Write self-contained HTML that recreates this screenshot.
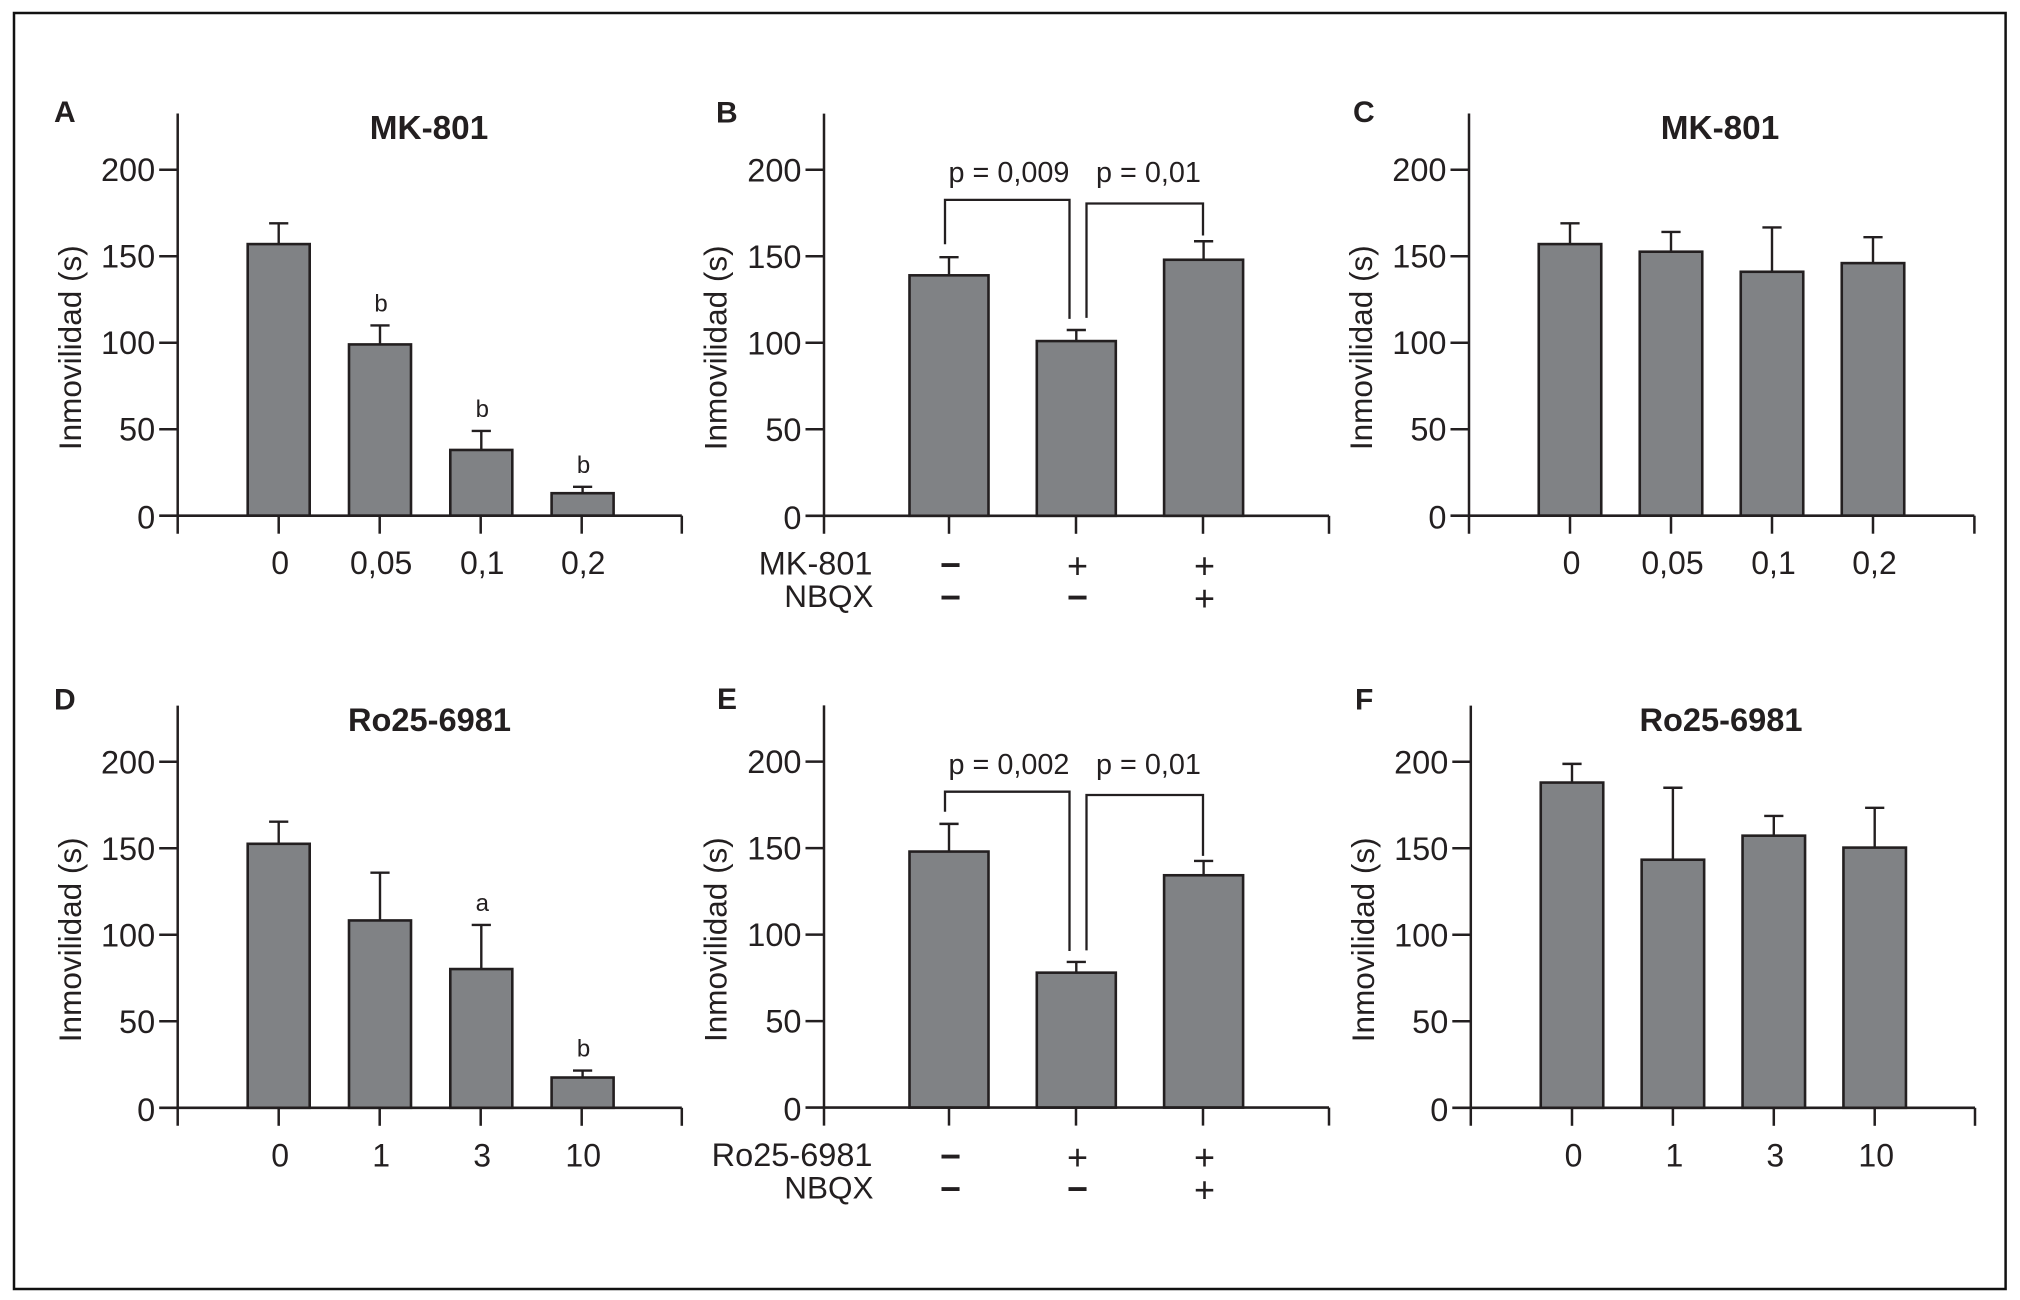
<!DOCTYPE html>
<html lang="es">
<head>
<meta charset="utf-8">
<title>Inmovilidad (s)</title>
<style>
html,body{margin:0;padding:0;background:#fff;}
svg{display:block;}
text{font-family:"Liberation Sans",sans-serif;fill:#231f20;}
</style>
</head>
<body>
<svg id="figure" xmlns="http://www.w3.org/2000/svg" width="2020" height="1300" viewBox="0 0 2020 1300">
  <rect x="14" y="13" width="1991.6" height="1276" fill="#fff" stroke="#111" stroke-width="2.5"/>
</svg>
<script>
const yTickValues = [0, 50, 100, 150, 200];

const mkDoseCategories = ['0', '0,05', '0,1', '0,2'];
const roDoseCategories = ['0', '1', '3', '10'];
const comboCategories = ['ctrl', 'drug', 'drug+nbqx'];

const panelAValues = [157, 99, 38, 13];
const panelAErrors = [169, 110, 49, 16.7];
const panelASignificance = ['', 'b', 'b', 'b'];

const panelBValues = [139, 101, 148];
const panelBErrors = [149.5, 107.4, 158.7];
const panelBPValues = ['p = 0,009', 'p = 0,01'];
const panelBBrackets = [[157, 182.6, 113.8], [114.4, 180.5, 162]];
const panelBRowNames = ['MK-801', 'NBQX'];
const panelBRows = [['−', '+', '+'], ['−', '−', '+']];

const panelCValues = [157, 152.6, 141, 146];
const panelCErrors = [169, 164, 166.6, 161];

const panelDValues = [152.6, 108.3, 80.2, 17.5];
const panelDErrors = [165.4, 135.9, 105.7, 21.5];
const panelDSignificance = ['', '', 'a', 'b'];

const panelEValues = [148, 78, 134.3];
const panelEErrors = [164, 84.2, 142.6];
const panelEPValues = ['p = 0,002', 'p = 0,01'];
const panelEBrackets = [[171, 182.6, 90.5], [90.9, 180.7, 145.5]];
const panelERowNames = ['Ro25-6981', 'NBQX'];
const panelERows = [['−', '+', '+'], ['−', '−', '+']];

const panelFValues = [188, 143.4, 157.3, 150.4];
const panelFErrors = [198.8, 185, 168.7, 173.4];

const INK = '#231f20';
const BAR = '#808285';
const NS = 'http://www.w3.org/2000/svg';
const Y_MAX = 232.5;
const PX_PER_UNIT = 1.73;
const svg = document.getElementById('figure');

function make(tag, attrs, parent, content) {
  const node = document.createElementNS(NS, tag);
  for (const key in attrs) node.setAttribute(key, attrs[key]);
  if (content !== undefined) node.textContent = content;
  parent.appendChild(node);
  return node;
}

function line(parent, x1, y1, x2, y2, width, name) {
  const node = make('line', { x1, y1, x2, y2, stroke: INK, 'stroke-width': width }, parent);
  
  
  return node;
}

function label(parent, x, y, size, anchor, weight, str, name) {
  const node = make('text', { x, y, 'font-size': size, 'text-anchor': anchor, 'font-weight': weight }, parent, str);
  
  
  return node;
}

function drawPanel(p) {
  const g = make('g', {}, svg);
  
  

  const yPos = v => p.base - v * PX_PER_UNIT;
  const xPos = i => p.x0 + i * p.step;

  label(g, p.letterX, p.base - p.letterRise, 30, 'start', 'bold', p.id, 'panel-letter');
  if (p.title) label(g, p.titleX, p.base - 376.7, p.titleSize, 'middle', 'bold', p.title, 'panel-title');

  // y axis title
  const titleY = p.base - 168;
  const yTitle = label(g, p.yTitleX, titleY, 31.5, 'middle', 'normal', 'Inmovilidad (s)', 'y-axis-title');
  yTitle.setAttribute('transform', 'rotate(-90 ' + p.yTitleX + ' ' + titleY + ')');

  // bars and error bars
  p.values.forEach((v, i) => {
    const cx = xPos(i) + p.barShift * i;
    const top = yPos(v);
    const errTop = yPos(p.errors[i]);
    line(g, cx, top, cx, errTop, 2.4, 'error-bar-' + i);
    line(g, cx - 9.6, errTop, cx + 9.6, errTop, 2.4, 'error-cap-' + i);
    const bar = make('rect', {
      x: cx - p.barWidth / 2, y: top, width: p.barWidth, height: p.base - top,
      fill: BAR, stroke: INK, 'stroke-width': 2.6
    }, g);
    
    
    if (p.significance && p.significance[i]) {
      label(g, cx + 1, errTop - 14, 24, 'middle', 'normal', p.significance[i], 'significance-label-' + i);
    }
  });

  // axes
  line(g, p.axisX, yPos(Y_MAX), p.axisX, p.base + 18, 2.5, 'y-axis-line');
  line(g, p.axisX - 18.5, p.base, p.axisEnd, p.base, 2.6, 'x-axis-line');
  line(g, p.axisEnd, p.base, p.axisEnd, p.base + 18, 2.5, 'x-axis-end-tick');

  yTickValues.forEach(v => {
    if (v > 0) line(g, p.axisX - 18.5, yPos(v), p.axisX, yPos(v), 2.5, 'y-tick-' + v);
    label(g, p.axisX - 22.5, yPos(v) + (v === 0 ? 13 : 11.5), 32.5, 'end', 'normal', String(v), 'y-tick-label-' + v);
  });

  p.categories.forEach((c, i) => {
    line(g, xPos(i), p.base, xPos(i), p.base + 18, 2.5, 'x-tick-' + i);
    if (p.showCategoryLabels) {
      label(g, xPos(i) + 1.5, p.base + 58.5, 32, 'middle', 'normal', c, 'x-tick-label-' + i);
    }
  });

  // treatment rows
  if (p.rows) {
    p.rows.forEach((row, r) => {
      const rowBase = p.base + 58.5 + r * 32.5;
      label(g, 872.5 + r * 1, rowBase, r === 0 ? 32.5 : 31.5, 'end', 'normal', p.rowNames[r], 'treatment-label-' + r);
      row.forEach((sym, i) => {
        label(g, xPos(i) + 1.5, rowBase + (sym === '+' ? 3.5 : 2.5), 36, 'middle', sym === '+' ? 'normal' : 'bold', sym, 'treatment-symbol-' + r + '-' + i);
      });
    });
  }

  // significance brackets
  if (p.brackets) {
    const a = p.brackets[0], b = p.brackets[1];
    const lx = xPos(0) - 4, mx1 = xPos(1) - 6.5, mx2 = xPos(1) + 10.5, rx = xPos(2);
    const left = make('polyline', {
      points: [lx, yPos(a[0]), lx, yPos(a[1]), mx1, yPos(a[1]), mx1, yPos(a[2])].join(' '),
      fill: 'none', stroke: INK, 'stroke-width': 2.3
    }, g);
    
    
    const right = make('polyline', {
      points: [mx2, yPos(b[0]), mx2, yPos(b[1]), rx, yPos(b[1]), rx, yPos(b[2])].join(' '),
      fill: 'none', stroke: INK, 'stroke-width': 2.3
    }, g);
    
    
    label(g, 948.5, p.base - 333.8, 28.8, 'start', 'normal', p.pValues[0], 'p-value-left');
    label(g, 1096, p.base - 333.8, 28.8, 'start', 'normal', p.pValues[1], 'p-value-right');
  }
}

drawPanel({ id: 'A', title: 'MK-801', titleX: 429, titleSize: 33.3, letterX: 54, letterRise: 393.5, base: 515.7, axisX: 177.7, axisEnd: 681.8,
  x0: 278.7, step: 101, barShift: 0.3, barWidth: 62, yTitleX: 80.8,
  categories: mkDoseCategories, showCategoryLabels: true, values: panelAValues, errors: panelAErrors, significance: panelASignificance });

drawPanel({ id: 'B', letterX: 716, letterRise: 393.5, base: 515.8, axisX: 824, axisEnd: 1329,
  x0: 949, step: 127, barShift: 0.3, barWidth: 79, yTitleX: 726.4,
  categories: comboCategories, showCategoryLabels: false, values: panelBValues, errors: panelBErrors,
  brackets: panelBBrackets, pValues: panelBPValues, rows: panelBRows, rowNames: panelBRowNames });

drawPanel({ id: 'C', title: 'MK-801', titleX: 1720, titleSize: 33.3, letterX: 1353, letterRise: 393.5, base: 515.7, axisX: 1469, axisEnd: 1974.4,
  x0: 1570, step: 101, barShift: 0, barWidth: 62.5, yTitleX: 1372,
  categories: mkDoseCategories, showCategoryLabels: true, values: panelCValues, errors: panelCErrors });

drawPanel({ id: 'D', title: 'Ro25-6981', titleX: 429.5, titleSize: 32.6, letterX: 54, letterRise: 398.5, base: 1107.8, axisX: 177.7, axisEnd: 681.8,
  x0: 278.7, step: 101, barShift: 0.3, barWidth: 62, yTitleX: 80.8,
  categories: roDoseCategories, showCategoryLabels: true, values: panelDValues, errors: panelDErrors, significance: panelDSignificance });

drawPanel({ id: 'E', letterX: 717, letterRise: 398.5, base: 1107.6, axisX: 824, axisEnd: 1329,
  x0: 949, step: 127, barShift: 0.3, barWidth: 79, yTitleX: 726.4,
  categories: comboCategories, showCategoryLabels: false, values: panelEValues, errors: panelEErrors,
  brackets: panelEBrackets, pValues: panelEPValues, rows: panelERows, rowNames: panelERowNames });

drawPanel({ id: 'F', title: 'Ro25-6981', titleX: 1721, titleSize: 32.6, letterX: 1355, letterRise: 398.5, base: 1107.8, axisX: 1470.8, axisEnd: 1975,
  x0: 1572, step: 100.9, barShift: 0, barWidth: 62.5, yTitleX: 1374,
  categories: roDoseCategories, showCategoryLabels: true, values: panelFValues, errors: panelFErrors });
</script>
</body>
</html>
